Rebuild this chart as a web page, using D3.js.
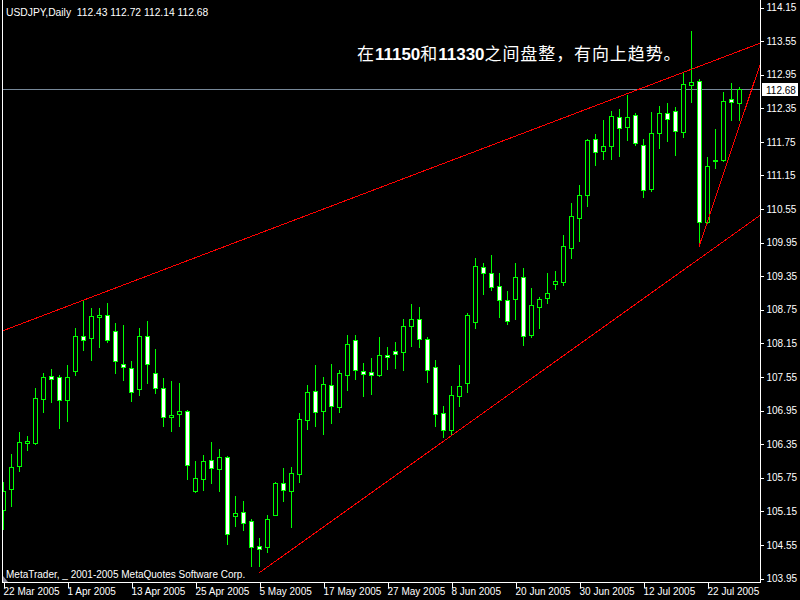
<!DOCTYPE html>
<html><head><meta charset="utf-8">
<script src="https://cdn.jsdelivr.net/npm/d3@7"></script>
<style>
html,body{margin:0;padding:0;background:#000;}
svg{display:block;}
text{font-family:"Liberation Sans",Arial,sans-serif;fill:#fff;}
</style></head>
<body>
<svg id="c" width="800" height="600"></svg>
<script>
const symbol = "USDJPY,Daily";
const opens = [105.17,105.54,105.95,106.37,106.36,107.15,107.56,107.54,107.13,107.64,
108.27,108.23,108.62,108.65,108.36,107.78,107.70,107.32,108.27,107.61,
107.34,106.82,106.88,106.94,105.50,105.71,106.06,105.89,106.11,105.06,
105.13,104.97,104.52,104.50,105.08,105.65,105.51,105.80,106.78,107.29,
106.94,107.40,107.01,107.58,108.20,107.65,107.63,107.57,107.93,108.00,
107.98,108.46,108.57,108.22,107.72,106.90,106.60,107.20,107.43,108.52,
109.50,109.40,109.16,108.91,108.93,109.32,108.29,108.79,108.95,109.20,
109.23,109.85,110.38,110.80,111.79,111.57,111.67,112.18,112.00,112.22,
111.68,110.89,111.90,112.25,112.29,111.91,112.76,112.82,110.31,111.40,
111.42,112.50,112.43];
const highs = [105.67,106.17,106.56,106.49,107.34,107.61,107.68,107.57,107.76,108.41,
108.89,108.78,108.78,108.86,108.51,108.47,107.83,108.41,108.54,108.04,
107.52,107.47,107.44,106.95,106.04,106.15,106.38,106.26,106.13,105.42,
105.33,105.01,104.67,105.08,105.67,105.92,105.94,106.90,107.40,107.76,
107.54,107.78,107.67,108.29,108.29,107.79,107.88,108.26,108.08,108.17,
108.58,108.85,108.79,108.25,107.85,107.03,107.38,107.76,108.69,109.67,
109.58,109.72,109.40,109.08,109.58,109.49,109.13,108.97,109.40,109.44,
110.08,110.65,110.97,111.79,111.88,112.13,112.29,112.32,112.58,112.25,
111.79,112.27,112.38,112.43,112.36,112.97,113.72,112.86,111.47,111.97,
112.63,112.79,112.72];
const lows = [104.83,105.23,105.87,106.23,106.35,106.92,107.10,106.63,106.76,107.57,
108.03,107.85,108.07,108.16,107.62,107.49,107.12,107.22,107.43,107.25,
106.67,106.57,106.66,105.72,105.48,105.53,105.64,105.50,104.56,104.87,
104.81,104.16,104.17,104.41,105.07,105.33,104.86,105.66,106.62,106.67,
106.53,106.71,106.91,107.30,107.51,107.21,107.23,107.56,107.69,107.71,
107.67,108.10,108.07,107.46,106.67,106.47,106.50,107.03,107.28,108.42,
109.03,109.10,108.62,108.48,108.57,108.12,108.26,108.41,108.86,109.11,
109.18,109.67,109.97,110.60,111.32,111.44,111.44,111.48,111.78,111.68,
110.75,110.87,111.64,111.75,111.51,111.82,112.46,109.89,110.29,111.28,
111.40,112.14,112.14];
const closes = [105.51,105.93,106.38,106.39,107.16,107.54,107.51,107.13,107.54,108.27,
108.21,108.63,108.64,108.20,107.82,107.72,107.28,108.27,107.78,107.35,
106.82,106.86,106.93,105.97,105.73,106.04,105.91,106.11,104.73,105.11,
104.93,104.50,104.47,105.01,105.65,105.53,105.83,106.79,107.28,106.92,
107.42,107.03,107.61,108.13,107.67,107.60,107.58,107.94,107.89,107.96,
108.45,108.57,108.22,107.66,106.88,106.59,107.22,107.38,108.65,109.52,
109.40,109.15,108.91,108.54,109.32,108.27,108.82,108.93,109.04,109.25,
109.88,110.41,110.79,111.77,111.56,111.66,112.20,111.98,112.18,111.72,
110.88,111.90,112.25,112.15,111.93,112.77,112.81,110.31,111.31,111.41,
112.47,112.45,112.68];
const priceTicks = [114.15,113.55,112.95,112.35,111.75,111.15,110.55,109.95,109.35,
108.75,108.15,107.55,106.95,106.35,105.75,105.15,104.55,103.95];
const dateLabels = ["22 Mar 2005","1 Apr 2005","13 Apr 2005","25 Apr 2005","5 May 2005",
"17 May 2005","27 May 2005","8 Jun 2005","20 Jun 2005","30 Jun 2005","12 Jul 2005","22 Jul 2005"];
const dateLabelBars = [0,8,16,24,32,40,48,56,64,72,80,88];
// trend lines: [barIndex, price] anchors
const upperLine = [[10,108.91],[85,112.98]];
const lowerLine = [[32,104.04],[87,109.65]];
const steepLine = [[87,109.87],[92,112.00]];
const annotation = ["在","11150","和","11330","之间盘整，有向上趋势。"];

const svg = d3.select("#c");
const W=800,H=600;
const plotL=3, plotR=760, plotT=0, plotB=582;
const n = opens.length;
const x = d3.scaleLinear().domain([0,n-1]).range([3,3+8*(n-1)]);
const y = d3.scaleLinear().domain([103.95,114.15]).range([578,7]);

svg.append("rect").attr("width",W).attr("height",H).attr("fill","#000");
svg.append("defs").append("clipPath").attr("id","plot")
  .append("rect").attr("x",plotL).attr("y",plotT).attr("width",plotR-plotL).attr("height",plotB-plotT);

const g = svg.append("g").attr("clip-path","url(#plot)");

// bid line
const last = n-1;
const bidY = Math.round(y(closes[last]))+0.5;
g.append("line").attr("x1",plotL).attr("x2",plotR).attr("y1",bidY).attr("y2",bidY)
  .attr("stroke","#778899").attr("stroke-width",1);

// candles
const idx = d3.range(n);
const cg = g.append("g").attr("shape-rendering","crispEdges");
cg.selectAll("line.w").data(idx).join("line").attr("class","w")
  .attr("x1",i=>Math.round(x(i))+0.5).attr("x2",i=>Math.round(x(i))+0.5)
  .attr("y1",i=>Math.round(y(highs[i]))).attr("y2",i=>Math.round(y(lows[i]))+1)
  .attr("stroke","#00ff00").attr("stroke-width",1);
cg.selectAll("path.b").data(idx).join("path").attr("class","b")
  .attr("d",i=>{
    const cx=Math.round(x(i));
    const t=Math.round(y(Math.max(opens[i],closes[i])))+0.5;
    const b=Math.round(y(Math.min(opens[i],closes[i])))+0.5;
    return `M${cx-1.5},${t}H${cx+2.5}V${b}H${cx-1.5}Z`;
  })
  .attr("fill",i=>closes[i]>=opens[i]?"#000":"#fff")
  .attr("stroke","#00ff00").attr("stroke-width",1);

// trend lines
function drawLine(anchors, extendLeft){
  const [a,b]=anchors;
  const slope=(b[1]-a[1])/(b[0]-a[0]);
  const i0 = extendLeft ? x.invert(0) : a[0];
  const i1 = x.invert(plotR);
  g.append("line")
    .attr("x1",x(i0)).attr("y1",y(a[1]+slope*(i0-a[0])))
    .attr("x2",x(i1)).attr("y2",y(a[1]+slope*(i1-a[0])))
    .attr("stroke","#ff0000").attr("stroke-width",1).attr("shape-rendering","crispEdges");
}
drawLine(upperLine,true);
drawLine(lowerLine,false);
drawLine(steepLine,false);

// frame
svg.append("line").attr("x1",2.5).attr("x2",2.5).attr("y1",0).attr("y2",plotB+0.5).attr("stroke","#fff");
svg.append("line").attr("x1",plotR+0.5).attr("x2",plotR+0.5).attr("y1",0).attr("y2",plotB+0.5).attr("stroke","#fff");
svg.append("line").attr("x1",2).attr("x2",plotR+1).attr("y1",plotB+0.5).attr("y2",plotB+0.5).attr("stroke","#fff");

// price axis
const ya = svg.append("g").attr("transform",`translate(${plotR+0.5},0.5)`)
  .call(d3.axisRight(y).tickValues(priceTicks).tickSize(3).tickPadding(3).tickFormat(d3.format(".2f")));
ya.select(".domain").remove();
ya.selectAll(".tick line").attr("stroke","#fff").attr("shape-rendering","crispEdges");
ya.selectAll(".tick text").attr("fill","#fff").style("font-size","10px")
  .style("font-family","'Liberation Sans',Arial,sans-serif");

// bid label
svg.append("rect").attr("x",762).attr("y",bidY-6.5).attr("width",36).attr("height",13).attr("fill","#fff");
svg.append("text").attr("x",766).attr("y",bidY+4).style("font-size","10px").style("fill","#000")
  .text(closes[last].toFixed(2));

// time axis
const xa = svg.append("g").attr("transform",`translate(0.5,${plotB+0.5})`)
  .call(d3.axisBottom(x).tickValues(dateLabelBars).tickSize(5).tickFormat((d,k)=>dateLabels[k]));
xa.select(".domain").remove();
xa.selectAll(".tick line").attr("stroke","#fff").attr("shape-rendering","crispEdges");
xa.selectAll(".tick text").attr("fill","#fff").style("font-size","10px")
  .style("font-family","'Liberation Sans',Arial,sans-serif")
  .attr("text-anchor","start").attr("x",-0.5).attr("dy",null).attr("y",12.5);

// title
svg.append("text").attr("x",6).attr("y",16).style("font-size","10.3px").style("white-space","pre")
  .text(`${symbol}  ${opens[last].toFixed(2)} ${highs[last].toFixed(2)} ${lows[last].toFixed(2)} ${closes[last].toFixed(2)}`);

// copyright
svg.append("text").attr("x",6).attr("y",578).style("font-size","10px")
  .text("MetaTrader, _ 2001-2005 MetaQuotes Software Corp.");
svg.append("path").attr("d","M3,576L3,582L8,582Z").attr("fill","#8a8a9a");

// annotation
const at = svg.append("text").attr("x",357).attr("y",60).style("font-size","17px");
annotation.forEach((s,k)=>{
  const isNum=/^\d+$/.test(s);
  at.append("tspan").text(s)
    .style("font-family",isNum?"'Liberation Sans',Arial,sans-serif":"'Noto Sans CJK SC',sans-serif")
    .style("font-weight",isNum?"bold":"normal")
    .style("letter-spacing",isNum?"0px":"0.9px");
});
</script>
</body></html>
